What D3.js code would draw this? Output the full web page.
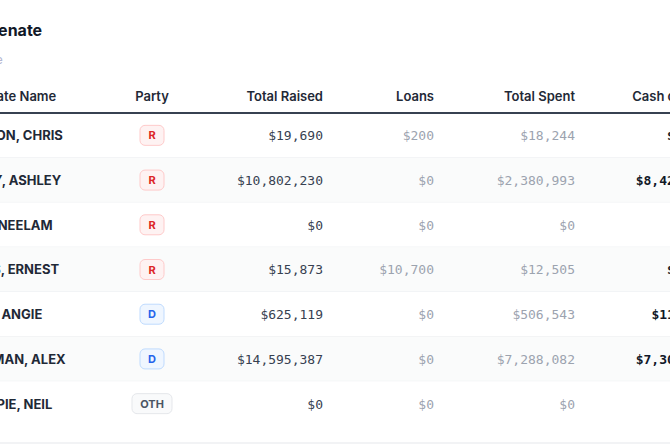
<!DOCTYPE html>
<html><head><meta charset="utf-8">
<script src="https://cdn.jsdelivr.net/npm/d3@7"></script>
<style>
body{margin:0;background:#fff;overflow:hidden}
text{font-family:Inter,"Noto Sans",sans-serif}
.mono{font-family:"DejaVu Sans Mono","Liberation Mono",monospace}
</style></head><body>
<svg id="c" width="670" height="446"></svg>
<script>
const names = ['JACKSON, CHRIS', 'MOODY, ASHLEY', 'KHAN, NEELAM', 'HARRIS, ERNEST', 'NIXON, ANGIE', 'BROWMAN, ALEX', 'GILLESPIE, NEIL'];
const parties = ['R', 'R', 'R', 'R', 'D', 'D', 'OTH'];
const raised = [19690, 10802230, 0, 15873, 625119, 14595387, 0];
const loans = [200, 0, 0, 10700, 0, 0, 0];
const spent = [18244, 2380993, 0, 12505, 506543, 7288082, 0];
const cash = [1446, 8421237, 0, 3368, 118576, 7307305, 0];
const headers = ['Candidate Name', 'Party', 'Total Raised', 'Loans', 'Total Spent', 'Cash on Hand'];

const svg = d3.select('#c');
const fmt = v => '$' + d3.format(',')(v);
const partyStyle = {
  R: {fg: '#dc2626', bg: '#fef2f2', bd: '#fecaca'},
  D: {fg: '#2563eb', bg: '#eff6ff', bd: '#bfdbfe'},
  OTH: {fg: '#4b5563', bg: '#f9fafb', bd: '#e5e7eb'}
};

const y = d3.scaleBand().domain(d3.range(names.length)).range([113, 426]);

svg.append('text').attr('x', -48).attr('y', 36).text('U.S. Senate')
  .attr('font-size', 16).attr('font-weight', 700).attr('fill', '#111827');
svg.append('text').attr('x', -42).attr('y', 64).text('Finance')
  .attr('font-size', 12).attr('fill', '#b4b6d0');

// header
const cols = [
  {x: -48, anchor: 'start'}, {x: 152, anchor: 'middle'}, {x: 323, anchor: 'end'},
  {x: 434, anchor: 'end'}, {x: 575, anchor: 'end'}, {x: 720, anchor: 'end'}
];
svg.selectAll('.hd').data(headers).join('text')
  .attr('x', (d, i) => cols[i].x).attr('y', 101).attr('text-anchor', (d, i) => cols[i].anchor)
  .attr('font-size', 13).attr('font-weight', 600).attr('fill', '#1f2937').text(d => d);

const rows = svg.selectAll('.row').data(names).join('g')
  .attr('transform', (d, i) => `translate(0,${y(i)})`);
rows.append('rect').attr('x', 0).attr('width', 670).attr('height', y.bandwidth())
  .attr('fill', (d, i) => i % 2 ? '#fafbfb' : '#fff');
rows.append('line').attr('x1', 0).attr('x2', 670).attr('y1', y.bandwidth()).attr('y2', y.bandwidth())
  .attr('stroke', (d, i) => i === names.length - 1 ? 'none' : '#eceef1');
const cy = y.bandwidth() / 2 + 5;
rows.append('text').attr('x', -48).attr('y', cy).text(d => d)
  .attr('font-size', 13).attr('font-weight', 700).attr('fill', '#1f2937');

const badge = rows.append('g').attr('transform', `translate(152,${y.bandwidth() / 2})`);
badge.append('rect')
  .attr('x', (d, i) => parties[i] === 'OTH' ? -20 : -12).attr('width', (d, i) => parties[i] === 'OTH' ? 40 : 24)
  .attr('y', -10).attr('height', 20).attr('rx', 5)
  .attr('fill', (d, i) => partyStyle[parties[i]].bg).attr('stroke', (d, i) => partyStyle[parties[i]].bd);
badge.append('text').attr('text-anchor', 'middle').attr('y', 4)
  .attr('font-size', 11).attr('font-weight', 700)
  .attr('fill', (d, i) => partyStyle[parties[i]].fg).text((d, i) => parties[i]);

const numCols = [
  {vals: raised, x: 323, fill: '#374151', w: 400},
  {vals: loans, x: 434, fill: '#9ca3af', w: 400},
  {vals: spent, x: 575, fill: '#9ca3af', w: 400},
  {vals: cash, x: 714, fill: '#111827', w: 700}
];
numCols.forEach(c => {
  rows.append('text').attr('class', 'mono').attr('x', c.x).attr('y', cy).attr('text-anchor', 'end')
    .attr('font-size', 13).attr('font-weight', c.w).attr('fill', c.fill).text((d, i) => fmt(c.vals[i]));
});

svg.append('line').attr('x1', 0).attr('x2', 670).attr('y1', 113).attr('y2', 113)
  .attr('stroke', '#374151').attr('stroke-width', 2);
svg.append('line').attr('x1', 0).attr('x2', 670).attr('y1', 443).attr('y2', 443)
  .attr('stroke', '#e5e7eb');
</script></body></html>
